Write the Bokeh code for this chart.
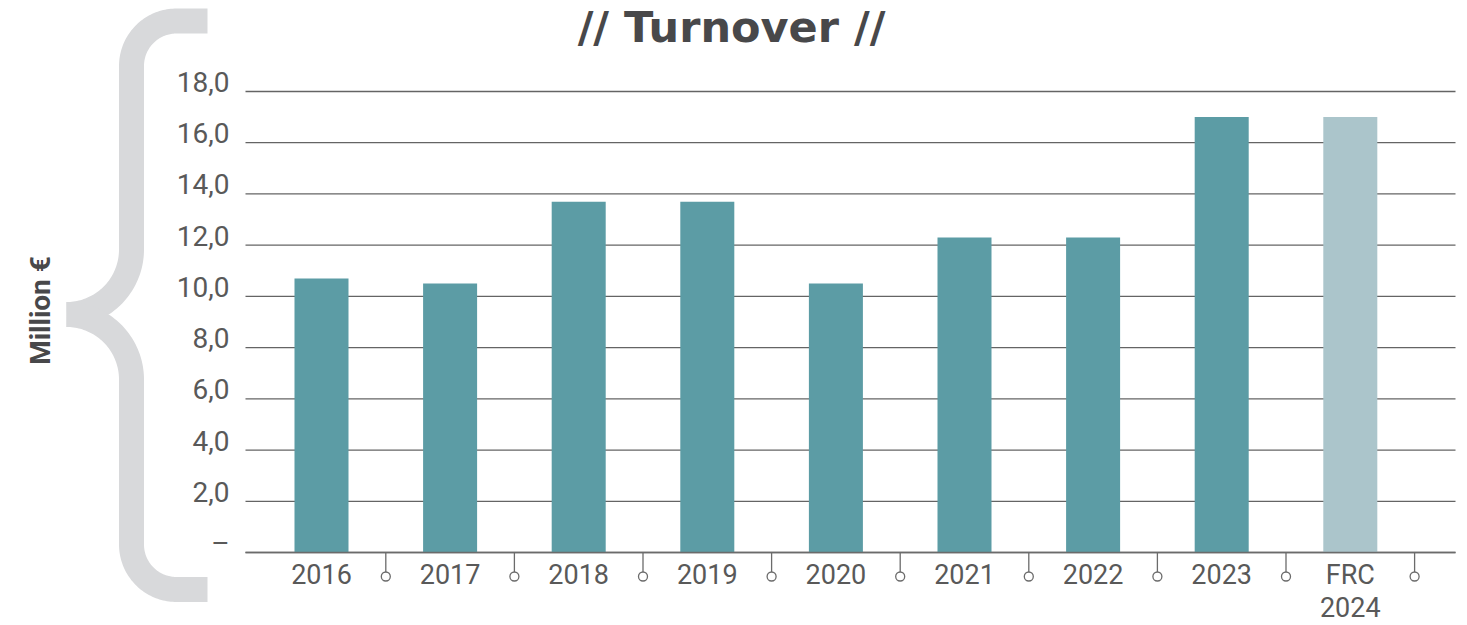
import numpy as np
from bokeh.plotting import figure
from bokeh.models import Range1d, FixedTicker, ColumnDataSource
from bokeh.core.properties import value
from bokeh.embed import file_html
from bokeh.resources import INLINE

# ---------------- data ----------------
categories = ["2016", "2017", "2018", "2019", "2020", "2021", "2022", "2023", "FRC\n2024"]
turnover = [10.7, 10.5, 13.7, 13.7, 10.5, 12.3, 12.3, 17.0, 17.0]
forecast = [False, False, False, False, False, False, False, False, True]
y_tick_values = [0, 2, 4, 6, 8, 10, 12, 14, 16, 18]
y_tick_labels = ["–", "2,0", "4,0", "6,0", "8,0", "10,0", "12,0", "14,0", "16,0", "18,0"]
title_text = "// Turnover //"
y_axis_title = "Million €"

# ---------------- style / layout ----------------
BAR = "#5c9ca5"
BAR_FRC = "#abc5cb"
GRID = "#646464"
AXIS = "#6b6b6b"
TEXT = "#595959"
DARK = "#48484a"
BRACE = "#d8d9db"
LABEL_FONT = "Roboto"

W, H = 1467, 625
X0_PX, STEP_PX = 321.0, 128.6      # pixel centre of first category, category step
BASE_PX, UNIT_PX = 552.0, 461.0 / 18  # pixel row of value 0, pixels per unit
XS, XE = -X0_PX / STEP_PX, (W - X0_PX) / STEP_PX
YS, YE = -(H - BASE_PX) / UNIT_PX, BASE_PX / UNIT_PX


def dx(px):
    return XS + px / W * (XE - XS)


def dy(py):
    return YE - py / H * (YE - YS)


PLOT_L, PLOT_R = dx(245), dx(1455)
LABEL_LIFT = 9 / UNIT_PX


def arc(cx, cy, r, t0, t1, n=48):
    t = np.radians(np.linspace(t0, t1, n))
    return np.c_[cx + r * np.cos(t), cy + r * np.sin(t)]


def seg(p0, p1, n=6):
    return np.c_[np.linspace(p0[0], p1[0], n), np.linspace(p0[1], p1[1], n)]


def stroke_polygon(parts, w):
    pts = np.vstack(parts)
    keep = np.r_[True, np.any(np.abs(np.diff(pts, axis=0)) > 1e-9, axis=1)]
    pts = pts[keep]
    t = np.gradient(pts, axis=0)
    t /= np.linalg.norm(t, axis=1)[:, None]
    nrm = np.c_[-t[:, 1], t[:, 0]]
    poly = np.vstack([pts + nrm * w / 2, (pts - nrm * w / 2)[::-1]])
    return [dx(v) for v in poly[:, 0]], [dy(v) for v in poly[:, 1]]


p = figure(width=W, height=H, output_backend="svg", toolbar_location=None,
           x_range=Range1d(XS, XE), y_range=Range1d(YS, YE), title=None,
           min_border_left=0, min_border_right=0, min_border_top=0, min_border_bottom=0,
           outline_line_color=None, background_fill_color="white", border_fill_color="white")
p.xgrid.visible = False
p.ygrid.visible = False

# gridlines
p.segment(x0=PLOT_L, x1=PLOT_R, y0=y_tick_values, y1=y_tick_values,
          line_color=GRID, line_width=1.3)

# bars
src = ColumnDataSource(dict(x=list(range(len(categories))), top=turnover,
                            color=[BAR_FRC if f else BAR for f in forecast]))
p.vbar(x="x", top="top", bottom=0, width=0.42, fill_color="color", line_color=None, source=src)

# x axis at value 0
xa = p.xaxis[0]
xa.fixed_location = 0
xa.bounds = (PLOT_L, PLOT_R)
xa.ticker = FixedTicker(ticks=list(range(len(categories))))
xa.major_label_overrides = {i: c for i, c in enumerate(categories)}
xa.axis_line_color = AXIS
xa.axis_line_width = 1.5
xa.major_tick_line_color = None
xa.minor_tick_line_color = None
xa.major_tick_out = 0
xa.major_tick_in = 0
xa.major_label_standoff = 6
xa.major_label_text_font = LABEL_FONT
xa.major_label_text_font_size = "27px"
xa.major_label_text_color = TEXT
xa.major_label_text_line_height = 1.05

# category separators with small circles
separators = [i + 0.5 for i in range(len(categories))]
p.segment(x0=separators, x1=separators, y0=0, y1=dy(572), line_color=AXIS, line_width=1.3)
p.scatter(x=separators, y=dy(576), marker="circle", size=9,
          fill_color="white", line_color=AXIS, line_width=1.3)

# y axis
ya = p.yaxis[0]
ya.fixed_location = PLOT_L
ya.bounds = (y_tick_values[0], y_tick_values[-1] + 2 * LABEL_LIFT)
lifted = [v + LABEL_LIFT for v in y_tick_values]
ya.ticker = FixedTicker(ticks=lifted)
ya.major_label_overrides = dict(zip(lifted, y_tick_labels))
ya.axis_line_color = None
ya.major_tick_line_color = None
ya.minor_tick_line_color = None
ya.major_tick_out = 0
ya.major_tick_in = 0
ya.major_label_standoff = 16
ya.major_label_text_font = LABEL_FONT
ya.major_label_text_font_size = "28px"
ya.major_label_text_color = TEXT

# curly brace
upper = [seg((207, 20.5), (176, 20.5)), arc(176, 65.5, 45, -90, -180),
         seg((131, 65.5), (131, 249)), arc(66, 249, 65, 0, 90)]
lower = [arc(66, 379, 65, -90, 0), seg((131, 379), (131, 544)),
         arc(176, 544, 45, 180, 90), seg((176, 589), (207, 589))]
for part in (upper, lower):
    bx, by = stroke_polygon(part, 25)
    p.patch(bx, by, fill_color=BRACE, line_color=None)

# vertical unit label
p.text(x=[dx(40)], y=[dy(310)], text=[y_axis_title], angle=np.pi / 2,
       text_align="center", text_baseline="middle", text_font=value("Roboto"),
       text_font_style="bold", text_font_size="28px", text_color=DARK)

# title
p.text(x=[dx(731)], y=[dy(26)], text=[title_text], text_align="center",
       text_baseline="middle", text_font=value("DejaVu Sans"),
       text_font_style="bold", text_font_size="43px", text_color=DARK)

open("out.html", "w").write(file_html(p, INLINE, title="Turnover"))
